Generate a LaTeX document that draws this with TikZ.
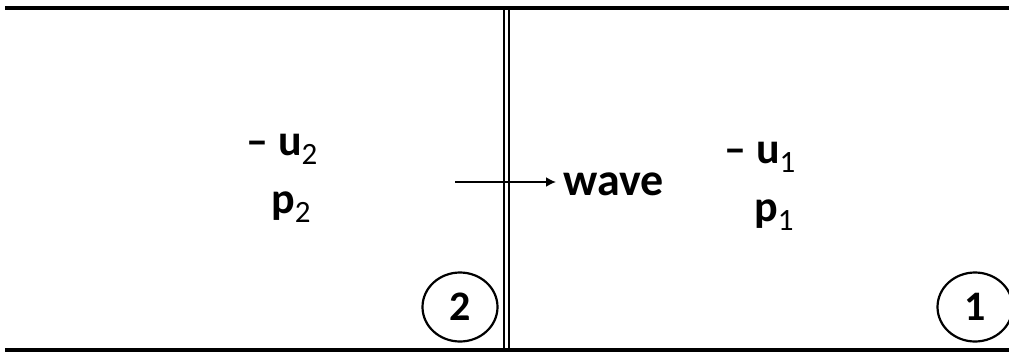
\documentclass[tikz,border=0pt]{standalone}
\usepackage{fontspec}
\setmainfont{Carlito}
\usetikzlibrary{arrows.meta,shapes.geometric}
\newcommand{\sbs}[1]{\raisebox{-9pt}{\fontsize{31}{31}\selectfont\mdseries #1}}
\begin{document}
\begin{tikzpicture}[x=1pt,y=-1pt,
  lbl/.style={inner sep=0pt,anchor=base west,font=\fontsize{44}{50}\selectfont\bfseries},
  num/.style={draw,line width=2.2pt,ellipse,minimum width=75pt,minimum height=69pt,inner sep=0pt,font=\fontsize{42}{48}\selectfont\bfseries},
  wall/.style={line width=4.5pt},
  thin/.style={line width=1.8pt}]
\useasboundingbox (0,0) rectangle (1009,354);
\coordinate (tl) at (5,8);
\coordinate (tr) at (1009,8);
\coordinate (bl) at (5,350);
\coordinate (br) at (1009,350);
\draw[wall] (tl) -- (tr);
\draw[wall] (bl) -- (br);
\coordinate (d1t) at (504,10);
\coordinate (d1b) at (504,348);
\coordinate (d2t) at (509,10);
\coordinate (d2b) at (509,348);
\draw[thin] (d1t) -- (d1b);
\draw[thin] (d2t) -- (d2b);
\node[lbl] (u2) at (246,155) {– u\sbs{2}};
\node[lbl] (p2) at (271,213) {p\sbs{2}};
\node[lbl] (u1) at (724,163) {– u\sbs{1}};
\node[lbl] (p1) at (754,221) {p\sbs{1}};
\node[lbl,font=\fontsize{46}{50}\selectfont\bfseries] (wave) at (563,195) {wave};
\coordinate (as) at (455,182);
\draw[line width=1.8pt,-{Latex[length=10pt,width=10pt]}] (as) -- ([xshift=-7pt]wave.west |- as);
\node[num] (c2) at (460,307) {2};
\node[num] (c1) at (975,307) {1};
\end{tikzpicture}
\end{document}
